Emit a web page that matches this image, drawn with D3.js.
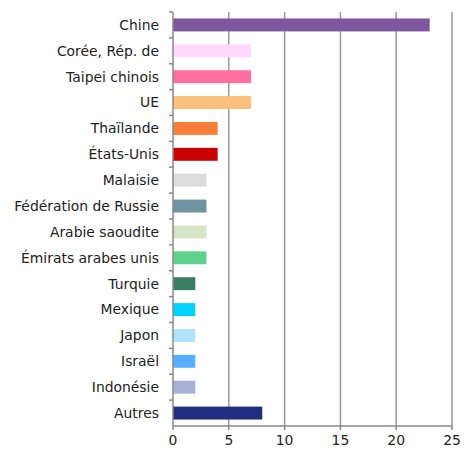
<!DOCTYPE html>
<html>
<head>
<meta charset="utf-8">
<script src="https://cdn.jsdelivr.net/npm/d3@7"></script>
<style>
  body { margin: 0; background: #fff; }
  text { font-family: "DejaVu Sans", Verdana, sans-serif; font-size: 13.9px; fill: #222; }
</style>
</head>
<body>
<div id="chart"></div>
<script>
// data
const categories = ["Chine", "Corée, Rép. de", "Taipei chinois", "UE", "Thaïlande", "États-Unis",
  "Malaisie", "Fédération de Russie", "Arabie saoudite", "Émirats arabes unis", "Turquie",
  "Mexique", "Japon", "Israël", "Indonésie", "Autres"];
const values = [23, 7, 7, 7, 4, 4, 3, 3, 3, 3, 2, 2, 2, 2, 2, 8];
const colors = ["#7f56a0", "#ffd9ff", "#ff6fa0", "#fbc07b", "#f77f38", "#cc0000",
  "#dcdcdc", "#6f93a0", "#d6e6c4", "#5fd38d", "#3a7d62",
  "#00d2ff", "#aee3fb", "#57b0ff", "#a7b1d8", "#1f2e7e"];
const xTicks = [0, 5, 10, 15, 20, 25];

const width = 465, height = 450,
  margin = { top: 12, right: 13, bottom: 24, left: 173 };

const svg = d3.select("#chart").append("svg")
  .attr("width", width).attr("height", height);

const x = d3.scaleLinear().domain([0, 25]).range([margin.left, width - margin.right]);
const y = d3.scaleBand().domain(categories).range([margin.top, height - margin.bottom]).paddingInner(0.5).paddingOuter(0.25);
const yb = d3.scaleBand().domain(categories).range([margin.top, height - margin.bottom]);

// gridlines
svg.append("g")
  .selectAll("line")
  .data(xTicks.slice(1))
  .join("line")
  .attr("x1", d => x(d)).attr("x2", d => x(d))
  .attr("y1", margin.top).attr("y2", height - margin.bottom)
  .attr("stroke", "#999").attr("stroke-width", 1.5);

// bars
svg.append("g")
  .selectAll("rect")
  .data(categories)
  .join("rect")
  .attr("x", x(0))
  .attr("y", d => y(d))
  .attr("width", (d, i) => x(values[i]) - x(0))
  .attr("height", y.bandwidth())
  .attr("fill", (d, i) => colors[i]);

// y axis: ticks at band boundaries
const yAxis = svg.append("g");
yAxis.append("line")
  .attr("x1", x(0)).attr("x2", x(0))
  .attr("y1", margin.top).attr("y2", height - margin.bottom)
  .attr("stroke", "#888").attr("stroke-width", 1.5);
yAxis.selectAll(".tk")
  .data(categories)
  .join("line")
  .attr("class", "tk")
  .attr("x1", x(0) - 4).attr("x2", x(0))
  .attr("y1", d => yb(d)).attr("y2", d => yb(d))
  .attr("stroke", "#888").attr("stroke-width", 1.5);
yAxis.selectAll("text")
  .data(categories)
  .join("text")
  .attr("x", x(0) - 14)
  .attr("y", d => yb(d) + yb.bandwidth() / 2)
  .attr("dy", "0.35em")
  .attr("text-anchor", "end")
  .text(d => d);

// x axis
const xAxis = svg.append("g").attr("transform", `translate(0,${height - margin.bottom})`);
xAxis.append("line")
  .attr("x1", x(0)).attr("x2", x(25))
  .attr("stroke", "#888").attr("stroke-width", 1.5);
xAxis.selectAll(".tk")
  .data(xTicks)
  .join("line")
  .attr("class", "tk")
  .attr("x1", d => x(d)).attr("x2", d => x(d))
  .attr("y1", 0).attr("y2", 4)
  .attr("stroke", "#888").attr("stroke-width", 1.5);
xAxis.selectAll("text")
  .data(xTicks)
  .join("text")
  .attr("x", d => x(d))
  .attr("y", 19)
  .attr("text-anchor", "middle")
  .text(d => d);
</script>
</body>
</html>
